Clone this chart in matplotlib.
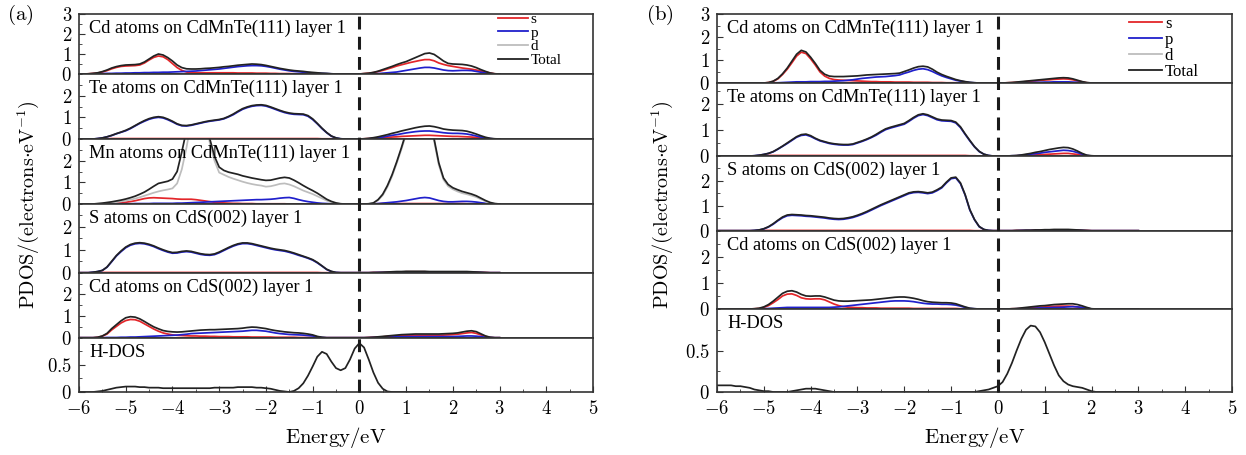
import numpy as np
import matplotlib
matplotlib.use('Agg')
import matplotlib.pyplot as plt
from matplotlib import transforms
from matplotlib.lines import Line2D
from matplotlib.ticker import FixedLocator, MultipleLocator, FuncFormatter


# -- -----------------------------
# Energy grid (eV), 0.1 eV steps from -6 to 3
energy = np.round(np.arange(-6.0, 3.05, 0.1), 1)
fermi = 0.0

# -- -----------------------------
# Panel (a) : values, one row per 1 eV
a_cd_s = [
    0, 0, 0.01, 0.03, 0.05, 0.1, 0.17, 0.26, 0.33, 0.38,
    0.4, 0.41, 0.42, 0.45, 0.55, 0.7, 0.83, 0.9, 0.86, 0.72,
    0.52, 0.32, 0.18, 0.1, 0.07, 0.06, 0.06, 0.06, 0.06, 0.06,
    0.06, 0.06, 0.06, 0.06, 0.05, 0.05, 0.05, 0.05, 0.04, 0.04,
    0.04, 0.03, 0.03, 0.02, 0.02, 0.02, 0.01, 0.01, 0.01, 0.01,
    0.01, 0.01, 0, 0, 0, 0, 0, 0, 0, 0,
    0, 0.02, 0.04, 0.07, 0.12, 0.18, 0.25, 0.32, 0.4, 0.46,
    0.52, 0.58, 0.63, 0.68, 0.72, 0.72, 0.66, 0.55, 0.48, 0.42,
    0.38, 0.34, 0.3, 0.27, 0.24, 0.2, 0.15, 0.1, 0.05, 0.01,
    0]
a_cd_p = [
    0, 0, 0, 0.01, 0.01, 0.02, 0.03, 0.03, 0.04, 0.04,
    0.05, 0.05, 0.06, 0.06, 0.07, 0.07, 0.08, 0.08, 0.09, 0.09,
    0.1, 0.11, 0.12, 0.13, 0.14, 0.15, 0.17, 0.19, 0.21, 0.23,
    0.25, 0.28, 0.31, 0.34, 0.37, 0.39, 0.41, 0.42, 0.42, 0.41,
    0.38, 0.34, 0.29, 0.24, 0.2, 0.16, 0.13, 0.11, 0.09, 0.07,
    0.05, 0.04, 0.03, 0.02, 0.01, 0, 0, 0, 0, 0,
    0, 0, 0, 0.01, 0.02, 0.04, 0.06, 0.08, 0.1, 0.14,
    0.18, 0.22, 0.26, 0.3, 0.33, 0.33, 0.3, 0.25, 0.2, 0.17,
    0.16, 0.17, 0.18, 0.18, 0.17, 0.13, 0.09, 0.05, 0.02, 0,
    0]
a_cd_total = [
    0, 0, 0.01, 0.03, 0.06, 0.12, 0.2, 0.3, 0.37, 0.42,
    0.45, 0.46, 0.47, 0.5, 0.6, 0.75, 0.9, 1.0, 0.95, 0.82,
    0.65, 0.45, 0.32, 0.26, 0.25, 0.25, 0.26, 0.28, 0.29, 0.31,
    0.33, 0.36, 0.38, 0.41, 0.44, 0.46, 0.48, 0.5, 0.49, 0.47,
    0.43, 0.38, 0.33, 0.28, 0.24, 0.2, 0.17, 0.15, 0.13, 0.1,
    0.08, 0.06, 0.04, 0.03, 0.01, 0, 0, 0, 0, 0,
    0, 0.02, 0.04, 0.08, 0.14, 0.22, 0.3, 0.38, 0.47, 0.55,
    0.62, 0.72, 0.82, 0.92, 1.02, 1.05, 0.98, 0.82, 0.65, 0.53,
    0.5, 0.49, 0.48, 0.45, 0.4, 0.32, 0.22, 0.13, 0.05, 0.01,
    0]

a_te_s = [
    0, 0, 0, 0, 0.01, 0.01, 0.01, 0.02, 0.02, 0.02,
    0.02, 0.02, 0.02, 0.02, 0.02, 0.02, 0.02, 0.02, 0.02, 0.02,
    0.02, 0.02, 0.02, 0.02, 0.02, 0.02, 0.02, 0.02, 0.02, 0.02,
    0.02, 0.02, 0.02, 0.02, 0.02, 0.02, 0.02, 0.02, 0.02, 0.02,
    0.02, 0.02, 0.02, 0.02, 0.02, 0.02, 0.02, 0.02, 0.02, 0.02,
    0.02, 0.02, 0.01, 0.01, 0.01, 0, 0, 0, 0, 0,
    0, 0.01, 0.02, 0.03, 0.04, 0.06, 0.07, 0.09, 0.1, 0.12,
    0.13, 0.14, 0.15, 0.16, 0.17, 0.17, 0.16, 0.15, 0.14, 0.13,
    0.12, 0.12, 0.11, 0.1, 0.09, 0.07, 0.05, 0.03, 0.01, 0,
    0]
a_te_p = [
    0, 0, 0, 0, 0.02, 0.05, 0.1, 0.16, 0.24, 0.31,
    0.38, 0.48, 0.6, 0.72, 0.82, 0.91, 0.97, 1.0, 0.97, 0.89,
    0.79, 0.68, 0.61, 0.6, 0.63, 0.68, 0.73, 0.78, 0.82, 0.85,
    0.88, 0.93, 1.02, 1.12, 1.25, 1.37, 1.45, 1.51, 1.54, 1.55,
    1.52, 1.45, 1.37, 1.29, 1.22, 1.17, 1.14, 1.13, 1.12, 1.05,
    0.9, 0.7, 0.48, 0.29, 0.13, 0.05, 0.01, 0, 0, 0,
    0, 0, 0.01, 0.03, 0.06, 0.09, 0.13, 0.17, 0.2, 0.24,
    0.28, 0.31, 0.34, 0.36, 0.37, 0.37, 0.35, 0.32, 0.29, 0.27,
    0.26, 0.26, 0.25, 0.23, 0.19, 0.14, 0.09, 0.05, 0.02, 0,
    0]
a_te_total = [
    0, 0, 0, 0, 0.02, 0.05, 0.1, 0.17, 0.25, 0.32,
    0.4, 0.5, 0.62, 0.74, 0.85, 0.94, 1.0, 1.03, 1.0, 0.92,
    0.82, 0.7, 0.63, 0.62, 0.65, 0.7, 0.75, 0.8, 0.84, 0.87,
    0.9, 0.95, 1.04, 1.15, 1.28, 1.4, 1.48, 1.54, 1.57, 1.58,
    1.55, 1.48, 1.4, 1.32, 1.25, 1.2, 1.17, 1.16, 1.15, 1.08,
    0.93, 0.72, 0.5, 0.3, 0.14, 0.05, 0.01, 0, 0, 0,
    0, 0.01, 0.03, 0.06, 0.1, 0.15, 0.2, 0.26, 0.31, 0.37,
    0.42, 0.47, 0.52, 0.56, 0.59, 0.6, 0.57, 0.52, 0.46, 0.43,
    0.41, 0.4, 0.39, 0.36, 0.3, 0.23, 0.15, 0.08, 0.03, 0.01,
    0]

a_mn_s = [
    0, 0, 0, 0, 0, 0.01, 0.02, 0.03, 0.04, 0.06,
    0.08, 0.11, 0.15, 0.2, 0.25, 0.28, 0.29, 0.28, 0.27, 0.26,
    0.25, 0.23, 0.22, 0.22, 0.22, 0.2, 0.17, 0.14, 0.11, 0.08,
    0.06, 0.05, 0.04, 0.03, 0.03, 0.02, 0.02, 0.02, 0.01, 0.01,
    0.01, 0.01, 0.01, 0.01, 0.01, 0, 0, 0, 0, 0,
    0, 0, 0, 0, 0, 0, 0, 0, 0, 0,
    0, 0, 0, 0.01, 0.01, 0.02, 0.02, 0.02, 0.02, 0.02,
    0.02, 0.02, 0.02, 0.02, 0.02, 0.02, 0.02, 0.02, 0.02, 0.02,
    0.02, 0.02, 0.02, 0.01, 0.01, 0.01, 0, 0, 0, 0,
    0]
a_mn_p = [
    0, 0, 0, 0, 0, 0, 0.01, 0.01, 0.01, 0.01,
    0.01, 0.01, 0.02, 0.02, 0.02, 0.02, 0.03, 0.03, 0.03, 0.03,
    0.03, 0.04, 0.04, 0.05, 0.06, 0.07, 0.08, 0.09, 0.1, 0.11,
    0.12, 0.13, 0.14, 0.15, 0.16, 0.17, 0.18, 0.19, 0.2, 0.2,
    0.21, 0.22, 0.24, 0.27, 0.29, 0.3, 0.26, 0.2, 0.15, 0.11,
    0.08, 0.05, 0.03, 0.02, 0.01, 0, 0, 0, 0, 0,
    0, 0, 0, 0.01, 0.02, 0.04, 0.06, 0.08, 0.1, 0.13,
    0.16, 0.2, 0.24, 0.28, 0.3, 0.28, 0.22, 0.16, 0.12, 0.1,
    0.1, 0.11, 0.12, 0.12, 0.11, 0.09, 0.06, 0.03, 0.01, 0,
    0]
a_mn_d = [
    0, 0, 0, 0, 0.01, 0.02, 0.04, 0.06, 0.09, 0.12,
    0.16, 0.2, 0.25, 0.31, 0.38, 0.45, 0.52, 0.58, 0.63, 0.67,
    0.72, 0.95, 1.6, 2.6, 3.8, 4.8, 4.8, 4.2, 2.8, 2.0,
    1.45, 1.35, 1.25, 1.17, 1.1, 1.03, 0.97, 0.92, 0.88, 0.85,
    0.8, 0.82, 0.87, 0.93, 0.95, 0.9, 0.82, 0.72, 0.62, 0.54,
    0.46, 0.36, 0.26, 0.16, 0.08, 0.03, 0.01, 0, 0, 0,
    0, 0, 0.01, 0.04, 0.17, 0.4, 0.78, 1.28, 1.88, 2.52,
    3.22, 4.4, 4.9, 4.9, 4.5, 3.9, 2.9, 1.8, 1.12, 0.82,
    0.68, 0.58, 0.5, 0.45, 0.39, 0.32, 0.22, 0.12, 0.05, 0.01,
    0]
a_mn_total = [
    0, 0, 0, 0, 0.02, 0.04, 0.07, 0.1, 0.14, 0.18,
    0.23, 0.29, 0.36, 0.45, 0.55, 0.68, 0.82, 0.95, 1.0, 1.05,
    1.15, 1.5, 2.4, 3.4, 4.5, 5.0, 5.0, 4.5, 3.0, 2.2,
    1.7, 1.55, 1.47, 1.42, 1.37, 1.3, 1.25, 1.2, 1.16, 1.12,
    1.09, 1.1, 1.15, 1.2, 1.23, 1.2, 1.1, 0.98, 0.85, 0.73,
    0.62, 0.5, 0.36, 0.22, 0.12, 0.05, 0.01, 0, 0, 0,
    0, 0, 0.01, 0.05, 0.2, 0.45, 0.85, 1.35, 1.95, 2.6,
    3.3, 4.5, 5.0, 5.0, 4.6, 4.0, 3.0, 1.9, 1.2, 0.9,
    0.75, 0.66, 0.58, 0.52, 0.46, 0.38, 0.27, 0.16, 0.07, 0.02,
    0]

a_s_s = [
    0, 0, 0, 0, 0, 0.01, 0.01, 0.01, 0.01, 0.01,
    0.01, 0.01, 0.01, 0.01, 0.01, 0.01, 0.01, 0.01, 0.01, 0.01,
    0.01, 0.01, 0.01, 0.01, 0.01, 0.01, 0.01, 0.01, 0.01, 0.01,
    0.01, 0.01, 0.01, 0.01, 0.01, 0.01, 0.01, 0.01, 0.01, 0.01,
    0.01, 0.01, 0.01, 0.01, 0.01, 0.01, 0.01, 0.01, 0.01, 0.01,
    0.01, 0.01, 0, 0, 0, 0, 0, 0, 0, 0,
    0, 0, 0, 0.01, 0.01, 0.01, 0.02, 0.02, 0.03, 0.03,
    0.04, 0.04, 0.04, 0.04, 0.04, 0.03, 0.03, 0.03, 0.03, 0.03,
    0.03, 0.03, 0.03, 0.03, 0.02, 0.02, 0.01, 0.01, 0, 0,
    0]
a_s_p = [
    0, 0, 0, 0.02, 0.05, 0.1, 0.24, 0.48, 0.73, 0.92,
    1.09, 1.2, 1.26, 1.28, 1.26, 1.21, 1.14, 1.05, 0.97, 0.9,
    0.85, 0.86, 0.9, 0.92, 0.9, 0.85, 0.8, 0.77, 0.76, 0.79,
    0.87, 0.97, 1.07, 1.16, 1.23, 1.27, 1.27, 1.24, 1.19, 1.14,
    1.09, 1.04, 1.0, 0.97, 0.94, 0.89, 0.83, 0.76, 0.7, 0.63,
    0.55, 0.43, 0.29, 0.14, 0.05, 0.01, 0, 0, 0, 0,
    0, 0, 0, 0, 0.01, 0.01, 0.01, 0.02, 0.02, 0.02,
    0.02, 0.02, 0.02, 0.02, 0.02, 0.02, 0.02, 0.02, 0.02, 0.02,
    0.02, 0.02, 0.02, 0.02, 0.02, 0.01, 0.01, 0, 0, 0,
    0]
a_s_total = [
    0, 0, 0, 0.02, 0.05, 0.1, 0.25, 0.5, 0.75, 0.95,
    1.12, 1.23, 1.29, 1.31, 1.29, 1.24, 1.17, 1.08, 1.0, 0.93,
    0.88, 0.89, 0.93, 0.95, 0.93, 0.88, 0.83, 0.8, 0.79, 0.82,
    0.9, 1.0, 1.1, 1.19, 1.26, 1.3, 1.3, 1.27, 1.22, 1.17,
    1.12, 1.07, 1.03, 1.0, 0.97, 0.92, 0.86, 0.79, 0.72, 0.65,
    0.57, 0.45, 0.3, 0.15, 0.06, 0.01, 0, 0, 0, 0,
    0, 0, 0, 0.01, 0.01, 0.02, 0.03, 0.04, 0.05, 0.05,
    0.06, 0.06, 0.06, 0.06, 0.06, 0.05, 0.05, 0.05, 0.05, 0.05,
    0.05, 0.05, 0.05, 0.05, 0.04, 0.03, 0.02, 0.01, 0, 0,
    0]

a_cds_s = [
    0, 0, 0, 0, 0.02, 0.07, 0.17, 0.36, 0.52, 0.68,
    0.79, 0.84, 0.83, 0.76, 0.64, 0.52, 0.4, 0.3, 0.22, 0.17,
    0.13, 0.11, 0.1, 0.09, 0.08, 0.08, 0.07, 0.07, 0.06, 0.06,
    0.05, 0.05, 0.05, 0.04, 0.04, 0.04, 0.04, 0.03, 0.03, 0.03,
    0.03, 0.03, 0.02, 0.02, 0.02, 0.02, 0.02, 0.01, 0.01, 0.01,
    0.01, 0, 0, 0, 0, 0, 0, 0, 0, 0,
    0, 0, 0.01, 0.02, 0.03, 0.04, 0.06, 0.07, 0.08, 0.09,
    0.1, 0.1, 0.11, 0.11, 0.11, 0.11, 0.11, 0.11, 0.12, 0.13,
    0.14, 0.16, 0.19, 0.22, 0.24, 0.2, 0.13, 0.06, 0.01, 0,
    0]
a_cds_p = [
    0, 0, 0, 0, 0, 0, 0.01, 0.01, 0.01, 0.02,
    0.02, 0.03, 0.03, 0.04, 0.05, 0.06, 0.07, 0.08, 0.09, 0.1,
    0.11, 0.12, 0.14, 0.16, 0.19, 0.2, 0.21, 0.22, 0.23, 0.24,
    0.25, 0.26, 0.27, 0.28, 0.29, 0.3, 0.32, 0.34, 0.34, 0.32,
    0.3, 0.26, 0.22, 0.19, 0.17, 0.15, 0.14, 0.13, 0.12, 0.1,
    0.08, 0.04, 0.01, 0, 0, 0, 0, 0, 0, 0,
    0, 0, 0, 0.01, 0.01, 0.02, 0.02, 0.03, 0.04, 0.04,
    0.05, 0.05, 0.05, 0.05, 0.05, 0.05, 0.05, 0.05, 0.05, 0.05,
    0.05, 0.06, 0.07, 0.08, 0.08, 0.07, 0.05, 0.02, 0.01, 0,
    0]
a_cds_total = [
    0, 0, 0, 0, 0.02, 0.08, 0.2, 0.42, 0.6, 0.78,
    0.92, 0.97, 0.95, 0.87, 0.75, 0.62, 0.5, 0.41, 0.33, 0.29,
    0.27, 0.26, 0.27, 0.29, 0.31, 0.33, 0.35, 0.36, 0.37, 0.37,
    0.38, 0.39, 0.4, 0.41, 0.42, 0.44, 0.47, 0.49, 0.48, 0.45,
    0.42, 0.37, 0.33, 0.3, 0.27, 0.25, 0.23, 0.22, 0.2, 0.17,
    0.13, 0.06, 0.02, 0, 0, 0, 0, 0, 0, 0,
    0, 0, 0.01, 0.02, 0.04, 0.06, 0.08, 0.1, 0.12, 0.14,
    0.15, 0.16, 0.17, 0.17, 0.17, 0.17, 0.17, 0.17, 0.18, 0.19,
    0.2, 0.22, 0.26, 0.3, 0.32, 0.28, 0.18, 0.08, 0.02, 0,
    0]

a_hdos = [
    0, 0, 0, 0, 0.01, 0.02, 0.04, 0.06, 0.08, 0.09,
    0.1, 0.1, 0.1, 0.09, 0.09, 0.08, 0.08, 0.08, 0.07, 0.07,
    0.07, 0.07, 0.07, 0.07, 0.07, 0.07, 0.07, 0.07, 0.07, 0.08,
    0.08, 0.08, 0.08, 0.08, 0.09, 0.09, 0.09, 0.09, 0.08, 0.08,
    0.07, 0.06, 0.04, 0.02, 0.01, 0, 0.02, 0.07, 0.16, 0.3,
    0.47, 0.65, 0.74, 0.7, 0.56, 0.44, 0.4, 0.44, 0.6, 0.8,
    0.9, 0.82, 0.6, 0.36, 0.17, 0.06, 0.01, 0, 0, 0,
    0, 0, 0, 0, 0, 0, 0, 0, 0, 0,
    0, 0, 0, 0, 0, 0, 0, 0, 0, 0,
    0]

# -- -----------------------------
# Panel (b)
b_cd_s = [
    0, 0, 0, 0, 0, 0, 0, 0, 0, 0,
    0, 0.02, 0.07, 0.18, 0.37, 0.6, 0.88, 1.17, 1.34, 1.28,
    1.05, 0.78, 0.48, 0.3, 0.2, 0.15, 0.13, 0.12, 0.11, 0.1,
    0.09, 0.08, 0.07, 0.06, 0.06, 0.05, 0.05, 0.05, 0.04, 0.04,
    0.04, 0.04, 0.03, 0.03, 0.03, 0.03, 0.02, 0.02, 0.02, 0.01,
    0.01, 0.01, 0, 0, 0, 0, 0, 0, 0, 0,
    0, 0, 0.01, 0.02, 0.03, 0.04, 0.06, 0.08, 0.09, 0.11,
    0.13, 0.14, 0.16, 0.17, 0.18, 0.17, 0.14, 0.09, 0.05, 0.01,
    0, 0, 0, 0, 0, 0, 0, 0, 0, 0,
    0]
b_cd_p = [
    0, 0, 0, 0, 0, 0, 0, 0, 0, 0,
    0, 0, 0.01, 0.01, 0.02, 0.03, 0.04, 0.05, 0.05, 0.05,
    0.06, 0.06, 0.06, 0.07, 0.07, 0.08, 0.09, 0.1, 0.12, 0.14,
    0.17, 0.2, 0.22, 0.24, 0.26, 0.27, 0.28, 0.3, 0.32, 0.35,
    0.42, 0.48, 0.55, 0.6, 0.62, 0.58, 0.5, 0.4, 0.31, 0.24,
    0.18, 0.12, 0.08, 0.05, 0.02, 0.01, 0, 0, 0, 0,
    0, 0, 0, 0, 0.01, 0.01, 0.02, 0.02, 0.03, 0.03,
    0.04, 0.04, 0.05, 0.05, 0.05, 0.05, 0.04, 0.03, 0.02, 0,
    0, 0, 0, 0, 0, 0, 0, 0, 0, 0,
    0]
b_cd_total = [
    0, 0, 0, 0, 0, 0, 0, 0, 0, 0,
    0, 0.02, 0.08, 0.2, 0.4, 0.65, 0.95, 1.25, 1.42, 1.35,
    1.12, 0.85, 0.55, 0.38, 0.3, 0.28, 0.28, 0.28, 0.29, 0.3,
    0.31, 0.33, 0.35, 0.36, 0.37, 0.38, 0.39, 0.4, 0.41, 0.43,
    0.5, 0.57, 0.65, 0.71, 0.73, 0.7, 0.6, 0.47, 0.37, 0.29,
    0.22, 0.15, 0.1, 0.06, 0.03, 0.01, 0, 0, 0, 0,
    0, 0, 0.01, 0.02, 0.04, 0.06, 0.08, 0.1, 0.12, 0.14,
    0.16, 0.18, 0.2, 0.22, 0.23, 0.22, 0.18, 0.12, 0.06, 0.02,
    0, 0, 0, 0, 0, 0, 0, 0, 0, 0,
    0]

b_te_s = [
    0, 0, 0, 0, 0, 0, 0, 0, 0, 0.01,
    0.02, 0.02, 0.02, 0.02, 0.02, 0.02, 0.02, 0.02, 0.02, 0.02,
    0.02, 0.02, 0.02, 0.02, 0.02, 0.02, 0.02, 0.02, 0.02, 0.02,
    0.02, 0.02, 0.02, 0.02, 0.02, 0.02, 0.02, 0.02, 0.02, 0.02,
    0.02, 0.02, 0.02, 0.02, 0.02, 0.02, 0.02, 0.02, 0.02, 0.02,
    0.02, 0.02, 0.02, 0.02, 0.01, 0.01, 0, 0, 0, 0,
    0, 0, 0, 0, 0.01, 0.01, 0.02, 0.03, 0.04, 0.05,
    0.06, 0.07, 0.08, 0.09, 0.1, 0.1, 0.08, 0.06, 0.03, 0.01,
    0, 0, 0, 0, 0, 0, 0, 0, 0, 0,
    0]
b_te_p = [
    0, 0, 0, 0, 0, 0, 0, 0, 0.01, 0.03,
    0.06, 0.1, 0.16, 0.26, 0.37, 0.48, 0.6, 0.72, 0.79, 0.81,
    0.75, 0.66, 0.58, 0.53, 0.48, 0.45, 0.43, 0.42, 0.42, 0.44,
    0.5, 0.56, 0.63, 0.71, 0.8, 0.91, 1.01, 1.07, 1.12, 1.17,
    1.22, 1.33, 1.45, 1.55, 1.59, 1.55, 1.47, 1.39, 1.35, 1.34,
    1.33, 1.27, 1.09, 0.83, 0.58, 0.35, 0.17, 0.07, 0.02, 0,
    0, 0, 0, 0.01, 0.01, 0.03, 0.05, 0.07, 0.09, 0.11,
    0.14, 0.16, 0.18, 0.2, 0.22, 0.21, 0.18, 0.13, 0.07, 0.02,
    0, 0, 0, 0, 0, 0, 0, 0, 0, 0,
    0]
b_te_total = [
    0, 0, 0, 0, 0, 0, 0, 0, 0.01, 0.03,
    0.06, 0.1, 0.17, 0.27, 0.38, 0.5, 0.62, 0.74, 0.82, 0.84,
    0.78, 0.68, 0.6, 0.55, 0.5, 0.47, 0.45, 0.44, 0.44, 0.46,
    0.52, 0.58, 0.65, 0.73, 0.83, 0.94, 1.04, 1.1, 1.15, 1.2,
    1.25, 1.36, 1.48, 1.58, 1.62, 1.58, 1.5, 1.42, 1.38, 1.37,
    1.36, 1.3, 1.12, 0.85, 0.6, 0.36, 0.18, 0.07, 0.02, 0,
    0, 0, 0, 0.01, 0.02, 0.04, 0.07, 0.1, 0.14, 0.17,
    0.21, 0.25, 0.28, 0.31, 0.33, 0.32, 0.27, 0.19, 0.1, 0.03,
    0.01, 0, 0, 0, 0, 0, 0, 0, 0, 0,
    0]

b_s_s = [
    0, 0, 0, 0, 0, 0, 0, 0, 0, 0.01,
    0.01, 0.01, 0.01, 0.01, 0.01, 0.01, 0.01, 0.01, 0.01, 0.01,
    0.01, 0.01, 0.01, 0.01, 0.01, 0.01, 0.01, 0.01, 0.01, 0.01,
    0.01, 0.01, 0.01, 0.01, 0.01, 0.01, 0.01, 0.01, 0.01, 0.01,
    0.01, 0.01, 0.01, 0.01, 0.01, 0.01, 0.01, 0.01, 0.01, 0.01,
    0.01, 0.01, 0.01, 0.01, 0.01, 0, 0, 0, 0, 0,
    0, 0, 0, 0, 0.01, 0.01, 0.01, 0.01, 0.02, 0.02,
    0.02, 0.03, 0.03, 0.03, 0.03, 0.03, 0.03, 0.02, 0.01, 0.01,
    0, 0, 0, 0, 0, 0, 0, 0, 0, 0,
    0]
b_s_p = [
    0, 0, 0, 0, 0, 0, 0, 0, 0.01, 0.03,
    0.07, 0.15, 0.26, 0.4, 0.52, 0.6, 0.62, 0.61, 0.6, 0.58,
    0.57, 0.55, 0.53, 0.51, 0.48, 0.46, 0.45, 0.46, 0.49, 0.53,
    0.59, 0.66, 0.74, 0.83, 0.92, 1.01, 1.09, 1.17, 1.25, 1.33,
    1.41, 1.49, 1.53, 1.54, 1.52, 1.49, 1.52, 1.61, 1.72, 1.92,
    2.09, 2.12, 1.89, 1.43, 0.83, 0.44, 0.16, 0.05, 0.01, 0,
    0, 0, 0, 0, 0, 0.01, 0.01, 0.01, 0.01, 0.01,
    0.01, 0.01, 0.02, 0.02, 0.02, 0.02, 0.01, 0.01, 0.01, 0,
    0, 0, 0, 0, 0, 0, 0, 0, 0, 0,
    0]
b_s_total = [
    0, 0, 0, 0, 0, 0, 0, 0, 0.01, 0.03,
    0.08, 0.16, 0.28, 0.42, 0.55, 0.63, 0.65, 0.64, 0.63, 0.61,
    0.6, 0.58, 0.56, 0.54, 0.51, 0.49, 0.48, 0.49, 0.52, 0.56,
    0.62, 0.69, 0.77, 0.86, 0.95, 1.04, 1.12, 1.2, 1.28, 1.36,
    1.44, 1.52, 1.56, 1.57, 1.55, 1.52, 1.55, 1.64, 1.75, 1.95,
    2.12, 2.15, 1.92, 1.45, 0.85, 0.45, 0.17, 0.05, 0.01, 0,
    0, 0, 0, 0, 0.01, 0.01, 0.02, 0.02, 0.03, 0.03,
    0.04, 0.04, 0.05, 0.05, 0.05, 0.05, 0.04, 0.03, 0.02, 0.01,
    0, 0, 0, 0, 0, 0, 0, 0, 0, 0,
    0]

b_cds_s = [
    0, 0, 0, 0, 0, 0, 0, 0, 0.01, 0.02,
    0.06, 0.13, 0.24, 0.36, 0.5, 0.57, 0.58, 0.52, 0.43, 0.39,
    0.38, 0.39, 0.39, 0.35, 0.27, 0.19, 0.13, 0.09, 0.07, 0.06,
    0.05, 0.05, 0.04, 0.04, 0.04, 0.03, 0.03, 0.03, 0.03, 0.03,
    0.03, 0.03, 0.02, 0.02, 0.02, 0.02, 0.02, 0.02, 0.02, 0.02,
    0.02, 0.02, 0.01, 0.01, 0, 0, 0, 0, 0, 0,
    0, 0, 0, 0.01, 0.01, 0.02, 0.04, 0.05, 0.06, 0.07,
    0.08, 0.09, 0.1, 0.11, 0.11, 0.11, 0.1, 0.08, 0.05, 0.02,
    0, 0, 0, 0, 0, 0, 0, 0, 0, 0,
    0]
b_cds_p = [
    0, 0, 0, 0, 0, 0, 0, 0, 0, 0,
    0.01, 0.02, 0.03, 0.04, 0.05, 0.06, 0.06, 0.06, 0.06, 0.06,
    0.06, 0.06, 0.06, 0.06, 0.06, 0.07, 0.08, 0.1, 0.12, 0.14,
    0.16, 0.18, 0.2, 0.22, 0.24, 0.26, 0.28, 0.3, 0.31, 0.31,
    0.31, 0.3, 0.28, 0.25, 0.22, 0.2, 0.19, 0.19, 0.18, 0.18,
    0.17, 0.15, 0.11, 0.06, 0.02, 0.01, 0, 0, 0, 0,
    0, 0, 0, 0, 0.01, 0.01, 0.02, 0.02, 0.03, 0.04,
    0.04, 0.05, 0.06, 0.06, 0.07, 0.08, 0.09, 0.08, 0.06, 0.03,
    0, 0, 0, 0, 0, 0, 0, 0, 0, 0,
    0]
b_cds_total = [
    0, 0, 0, 0, 0, 0, 0, 0, 0.01, 0.03,
    0.08, 0.17, 0.3, 0.45, 0.6, 0.68, 0.7, 0.65, 0.56, 0.5,
    0.49, 0.5, 0.5, 0.46, 0.4, 0.34, 0.31, 0.3, 0.3, 0.31,
    0.32, 0.33, 0.34, 0.35, 0.37, 0.39, 0.41, 0.43, 0.45, 0.46,
    0.46, 0.44, 0.41, 0.37, 0.32, 0.28, 0.26, 0.25, 0.24, 0.24,
    0.23, 0.2, 0.14, 0.08, 0.03, 0.01, 0, 0, 0, 0,
    0, 0, 0, 0.01, 0.02, 0.04, 0.06, 0.08, 0.1, 0.12,
    0.13, 0.15, 0.17, 0.18, 0.19, 0.2, 0.2, 0.17, 0.12, 0.06,
    0.01, 0, 0, 0, 0, 0, 0, 0, 0, 0,
    0]

b_hdos = [
    0.08, 0.08, 0.08, 0.08, 0.07, 0.07, 0.06, 0.05, 0.03, 0.02,
    0.01, 0.01, 0, 0, 0, 0, 0.01, 0.02, 0.03, 0.04,
    0.04, 0.04, 0.03, 0.02, 0.01, 0, 0, 0, 0, 0,
    0, 0, 0, 0, 0, 0, 0, 0, 0, 0,
    0, 0, 0, 0, 0, 0, 0, 0, 0, 0,
    0, 0, 0, 0, 0, 0, 0.01, 0.02, 0.03, 0.05,
    0.07, 0.12, 0.22, 0.35, 0.5, 0.64, 0.75, 0.8, 0.79, 0.72,
    0.6, 0.46, 0.32, 0.2, 0.13, 0.09, 0.07, 0.06, 0.05, 0.03,
    0.01, 0, 0, 0, 0, 0, 0, 0, 0, 0,
    0]

a_labels = ['Cd atoms on CdMnTe(111) layer 1', 'Te atoms on CdMnTe(111) layer 1',
            'Mn atoms on CdMnTe(111) layer 1', 'S atoms on CdS(002) layer 1',
            'Cd atoms on CdS(002) layer 1', 'H-DOS']
b_labels = ['Cd atoms on CdMnTe(111) layer 1', 'Te atoms on CdMnTe(111) layer 1',
            'S atoms on CdS(002) layer 1', 'Cd atoms on CdS(002) layer 1', 'H-DOS']
legend_labels = ['s', 'p', 'd', 'Total']
x_ticks = [-6, -5, -4, -3, -2, -1, 0, 1, 2, 3, 4, 5]

a_rows = [
    {'s': a_cd_s, 'p': a_cd_p, 'total': a_cd_total},
    {'s': a_te_s, 'p': a_te_p, 'total': a_te_total},
    {'s': a_mn_s, 'p': a_mn_p, 'd': a_mn_d, 'total': a_mn_total},
    {'s': a_s_s, 'p': a_s_p, 'total': a_s_total},
    {'s': a_cds_s, 'p': a_cds_p, 'total': a_cds_total},
    {'total': a_hdos},
]
b_rows = [
    {'s': b_cd_s, 'p': b_cd_p, 'total': b_cd_total},
    {'s': b_te_s, 'p': b_te_p, 'total': b_te_total},
    {'s': b_s_s, 'p': b_s_p, 'total': b_s_total},
    {'s': b_cds_s, 'p': b_cds_p, 'total': b_cds_total},
    {'total': b_hdos},
]
for rows in (a_rows, b_rows):
    for r in rows:
        for k, v in r.items():
            assert len(v) == len(energy), (k, len(v))


# -- -----------------------------
# Styling
plt.rcParams['mathtext.fontset'] = 'cm'
plt.rcParams['font.family'] = 'Liberation Serif'

W, H = 1246, 455
C_S = '#e3262a'
C_P = '#2020cc'
C_D = '#bdbdbd'
C_T = '#222222'
SPINE = '#333333'
styles = [('s', C_S), ('p', C_P), ('d', C_D), ('total', C_T)]

fig = plt.figure(figsize=(W / 100, H / 100), dpi=100)


def math_fmt(v, pos):
    return r'$%g$' % v


def draw_panel(left, right, edges, rows, labels, ylims, leg_anchor, leg_size):
    axes = []
    n = len(rows)
    for i in range(n):
        top, bottom = edges[i], edges[i + 1]
        ax = fig.add_axes([left / W, 1 - bottom / H, (right - left) / W, (bottom - top) / H])
        for key, color in styles:
            if key in rows[i]:
                ax.plot(energy, rows[i][key], color=color, lw=1.25, solid_joinstyle='round')
        ax.set_xlim(-6, 5)
        ax.set_ylim(0, ylims[i])

        if ylims[i] <= 1:
            ax.yaxis.set_major_locator(FixedLocator([0, 0.5]))
            ax.yaxis.set_minor_locator(MultipleLocator(0.25))
        else:
            ticks = [0, 1, 2, 3] if i == 0 else [0, 1, 2]
            ax.yaxis.set_major_locator(FixedLocator(ticks))
            ax.yaxis.set_minor_locator(MultipleLocator(0.5))
        ax.yaxis.set_major_formatter(FuncFormatter(math_fmt))
        ax.tick_params(axis='y', which='both', direction='in', right=False,
                       labelsize=13.5, pad=5, color=SPINE)
        ax.tick_params(axis='y', which='major', length=4)
        ax.tick_params(axis='y', which='minor', length=2.5)

        if i == n - 1:
            ax.xaxis.set_major_locator(FixedLocator(x_ticks))
            ax.xaxis.set_minor_locator(MultipleLocator(0.5))
            ax.xaxis.set_major_formatter(FuncFormatter(math_fmt))
            ax.tick_params(axis='x', which='both', direction='in', top=False,
                           labelsize=13.5, pad=6, color=SPINE)
            ax.tick_params(axis='x', which='major', length=4)
            ax.tick_params(axis='x', which='minor', length=2.5)
        else:
            ax.tick_params(axis='x', which='both', bottom=False, top=False, labelbottom=False)

        for sp in ax.spines.values():
            sp.set_color(SPINE)
            sp.set_linewidth(1.2)

        ax.annotate(labels[i], xy=(0, 1), xycoords='axes fraction', xytext=(10, -6),
                    textcoords='offset pixels', ha='left', va='top', fontsize=13.2)
        axes.append(ax)

    # legend in the first row
    handles = [Line2D([], [], color=c, lw=1.3) for _, c in styles]
    axes[0].legend(handles, legend_labels, loc='upper left', bbox_to_anchor=leg_anchor,
                   frameon=False, fontsize=leg_size, handlelength=2.0, handletextpad=0.15,
                   labelspacing=0.0, borderpad=0, borderaxespad=0)

    # dashed Fermi level through all rows
    trans = transforms.blended_transform_factory(axes[-1].transData, fig.transFigure)
    fig.add_artist(Line2D([fermi, fermi], [1 - edges[-1] / H, 1 - edges[0] / H],
                          transform=trans, color='#1a1a1a', lw=2.2, dashes=(4.2, 2.4)))
    return axes


axes_a = draw_panel(79, 593, [14, 74, 139, 204, 272.7, 337.7, 392], a_rows, a_labels,
                    [3, 3, 3, 3, 3, 1], (0.815, 1.03), 11)
axes_b = draw_panel(717, 1232, [14, 83, 156, 230.7, 309, 392], b_rows, b_labels,
                    [3, 2.8, 3, 3, 1], (0.80, 0.97), 12)

# -- -----------------------------
# Figure texts
for x, tag in [(7, '(a)'), (646, '(b)')]:
    fig.text(x / W, 1 - 15 / H, r'$\mathrm{%s}$' % tag, fontsize=15, ha='left', va='center')
for x in [28, 662]:
    fig.text(x / W, 1 - 205 / H, r'$\mathrm{PDOS/(electrons{\cdot}eV^{-1})}$',
             rotation=90, fontsize=14.5, ha='center', va='center')
for x in [336, 974.5]:
    fig.text(x / W, 1 - 437 / H, r'$\mathrm{Energy/eV}$', fontsize=15, ha='center', va='center')

fig.savefig('out.png', dpi=100)
